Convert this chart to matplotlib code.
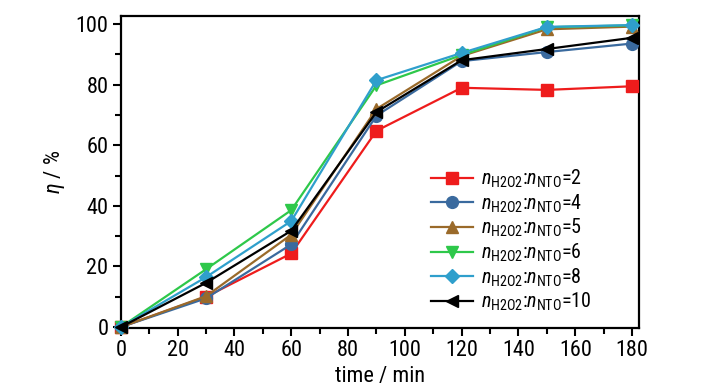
import matplotlib
matplotlib.use("Agg")
import matplotlib.pyplot as plt
from matplotlib.ticker import MultipleLocator

# condensed sans, closest to the narrow Arial of the original
FONT = ["Roboto Condensed", "Liberation Sans", "DejaVu Sans"]
plt.rcParams["font.family"] = FONT
plt.rcParams["mathtext.fontset"] = "custom"
plt.rcParams["mathtext.rm"] = "Roboto Condensed"
plt.rcParams["mathtext.it"] = "Roboto Condensed:italic"

# data
time_min = [0, 30, 60, 90, 120, 150, 180]
ratios = ["2", "4", "5", "6", "8", "10"]
eta_2 = [0, 10.0, 24.3, 64.8, 79.0, 78.3, 79.5]
eta_4 = [0, 9.5, 27.3, 69.8, 87.8, 90.8, 93.6]
eta_5 = [0, 10.2, 30.5, 72.0, 89.5, 98.3, 99.2]
eta_6 = [0, 19.1, 38.6, 79.8, 89.8, 99.0, 99.6]
eta_8 = [0, 16.5, 35.0, 81.5, 90.5, 99.1, 99.7]
eta_10 = [0, 14.6, 31.8, 71.0, 88.1, 91.8, 95.5]

series = [eta_2, eta_4, eta_5, eta_6, eta_8, eta_10]
colors = ["#ee1c1c", "#3a6a9e", "#9a6a2a", "#2ec84a", "#2f9fcc", "#000000"]
markers = ["s", "o", "^", "v", "D", "<"]
sizes = [8, 8.5, 8.5, 8.5, 7, 8.5]

fig = plt.figure(figsize=(7.28, 3.90), dpi=100)
ax = fig.add_axes([0.166, 0.159, 0.712, 0.800])

for vals, r, c, m, s in zip(series, ratios, colors, markers, sizes):
    label = r"$n_{\mathrm{H2O2}}$:$n_{\mathrm{NTO}}$=" + r
    ax.plot(time_min, vals, color=c, marker=m, markersize=s, lw=1.6,
            label=label, clip_on=False, zorder=3)

ax.set_xlim(0, 182.5)
ax.set_ylim(-0.3, 102.7)
ax.xaxis.set_major_locator(MultipleLocator(20))
ax.xaxis.set_minor_locator(MultipleLocator(10))
ax.yaxis.set_major_locator(MultipleLocator(20))
ax.yaxis.set_minor_locator(MultipleLocator(10))
ax.tick_params(which="both", direction="out", width=1.5, labelsize=16,
               top=False, right=False)
ax.tick_params(which="major", length=6, pad=3)
ax.tick_params(which="minor", length=4)
for sp in ax.spines.values():
    sp.set_linewidth(1.6)

ax.set_xlabel("time / min", fontsize=16, labelpad=3)
ax.set_ylabel(r"$\eta$ / %", fontsize=16, labelpad=6)

ax.legend(loc="lower right", bbox_to_anchor=(0.94, -0.005), frameon=False,
          fontsize=14.5, handlelength=2.1, labelspacing=0.12, handletextpad=0.4,
          borderpad=0.3)

fig.savefig("out.png", dpi=100)
